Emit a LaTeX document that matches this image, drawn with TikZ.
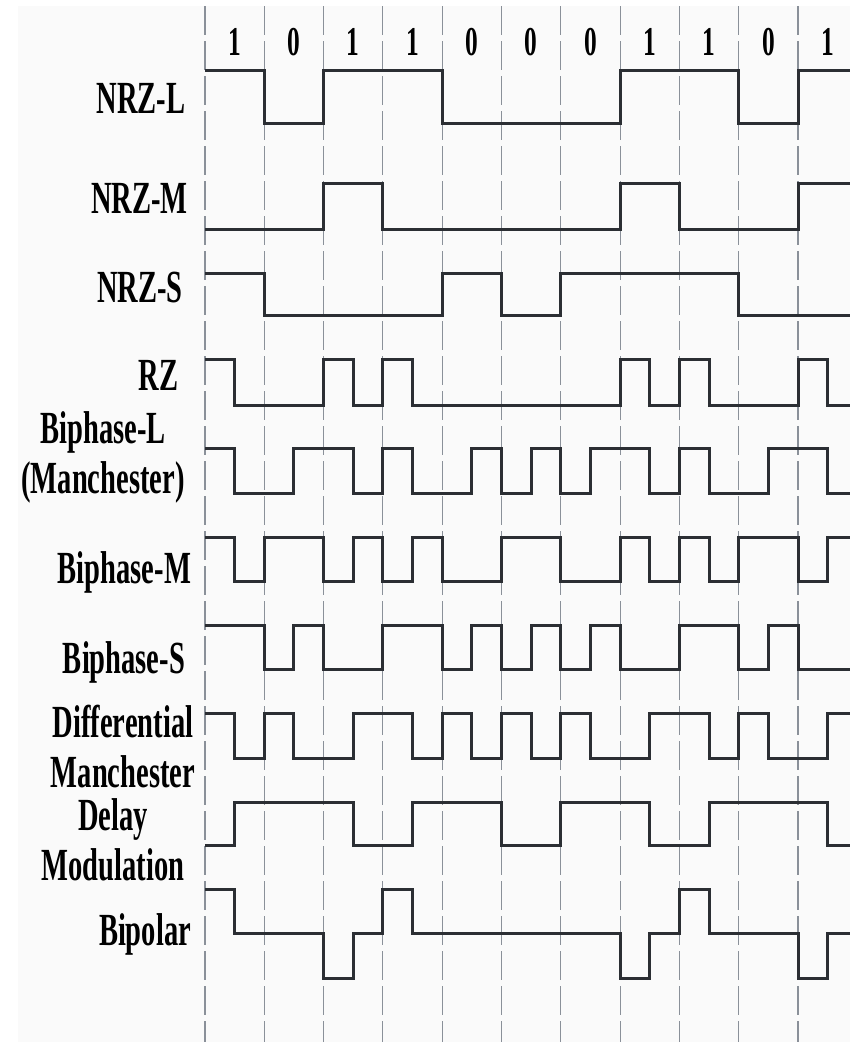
\documentclass[tikz,border=0pt]{standalone}
\usepackage{fontspec}
\newfontfamily\codefont{Liberation Serif}[FakeStretch=0.62]
\definecolor{wavecol}{RGB}{43,46,51}
\definecolor{gridcol}{RGB}{138,144,153}
\definecolor{paper}{RGB}{250,250,250}
\newcommand{\hb}{29.65}
\def\firstlv#1,#2\relax{#1}
% #1 = y of high level, #2 = y of low level, #3 = level of each half bit
\newcommand{\wave}[3]{%
  \edef\startlv{\firstlv#3,\relax}%
  \draw[sig] (205,{#2+(#1-#2)*\startlv})
    foreach \b [count=\i from 0] in {#3} {
      -- ({205+\i*\hb},{#2+(#1-#2)*\b}) -- ({205+(\i+1)*\hb},{#2+(#1-#2)*\b})};
}

\begin{document}
\begin{tikzpicture}[x=1pt,y=-1pt,
    sig/.style={wavecol,line width=3pt,line join=miter},
    lbl/.style={anchor=base,align=center,font=\codefont\bfseries\fontsize{46}{50}\selectfont}]
  \path[use as bounding box] (0,0) rectangle (850,1042);
  \clip (0,0) rectangle (850,1042);
  \fill[paper] (18,6) rectangle (850,1042);
  % bit cells
  \foreach \k in {0,...,10}
    \draw[gridcol,line width=1.1pt,dash pattern=on 29pt off 6pt]
      ({205+2*\k*\hb},6) -- ({205+2*\k*\hb},1042);
  \foreach \d [count=\k from 0] in {1,0,1,1,0,0,0,1,1,0,1}
    \node[anchor=base,font=\codefont\bfseries\fontsize{41}{41}\selectfont]
      (bit\k) at ({205+(2*\k+1)*\hb},55) {\d};
  % code names (base = last line)
  \node[lbl] (nrzl) at (141,113) {NRZ-L};
  \node[lbl] (nrzm) at (139.5,213) {NRZ-M};
  \node[lbl] (nrzs) at (140,302) {NRZ-S};
  \node[lbl] (rz) at (158.5,390) {RZ};
  \node[lbl] (bphl) at (103,493) {Biphase-L\\(Manchester)};
  \node[lbl] (bphm) at (124.5,583) {Biphase-M};
  \node[lbl] (bphs) at (124,673) {Biphase-S};
  \node[lbl] (dman) at (123,787) {Differential\\Manchester};
  \node[lbl] (dmod) at (113,880) {Delay\\Modulation};
  \node[lbl] (bip) at (145,945) {Bipolar};
  % waveforms
  \wave{70}{123}{1,1,0,0,1,1,1,1,0,0,0,0,0,0,1,1,1,1,0,0,1,1}
  \wave{183}{229}{0,0,0,0,1,1,0,0,0,0,0,0,0,0,1,1,0,0,0,0,1,1}
  \wave{273}{315}{1,1,0,0,0,0,0,0,1,1,0,0,1,1,1,1,1,1,0,0,0,0}
  \wave{359}{405}{1,0,0,0,1,0,1,0,0,0,0,0,0,0,1,0,1,0,0,0,1,0}
  \wave{448}{493}{1,0,0,1,1,0,1,0,0,1,0,1,0,1,1,0,1,0,0,1,1,0}
  \wave{537}{581}{1,0,1,1,0,1,0,1,0,0,1,1,0,0,1,0,1,0,1,1,0,1}
  \wave{625}{669}{1,1,0,1,0,0,1,1,0,1,0,1,0,1,0,0,1,1,0,1,0,0}
  \wave{713}{758}{1,0,1,0,0,1,1,0,1,0,1,0,1,0,0,1,1,0,1,0,0,1}
  \wave{802}{845}{0,1,1,1,1,0,0,1,1,1,0,0,1,1,1,0,0,1,1,1,1,0}
  \wave{889}{978}{1,.5,.5,.5,0,.5,1,.5,.5,.5,.5,.5,.5,.5,0,.5,1,.5,.5,.5,0,.5}
\end{tikzpicture}
\end{document}
